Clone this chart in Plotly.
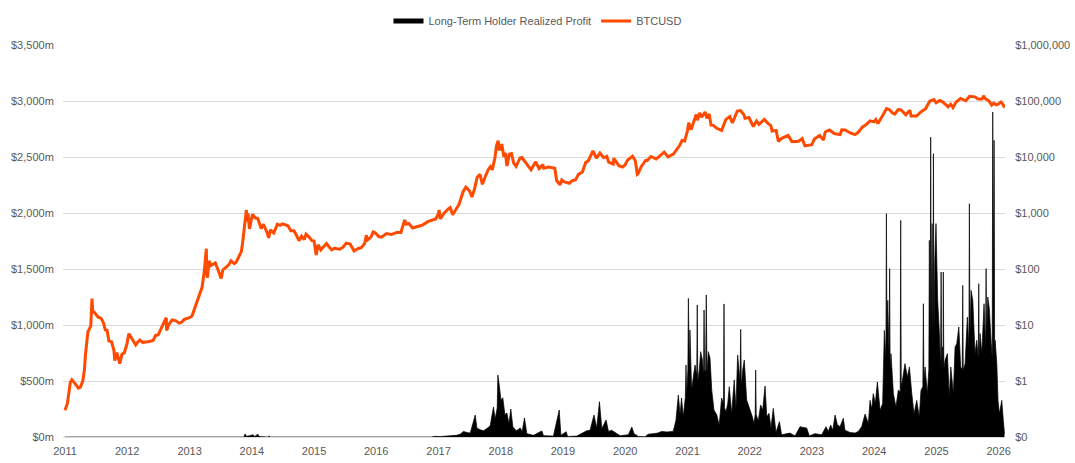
import plotly.graph_objects as go

# ---- Long-Term Holder Realized Profit ($m): main readings ----
profit_dates = [
    "2010-12-31", "2013-04-05", "2013-04-12", "2013-04-19", "2013-11-15", "2013-11-23", "2013-12-01",
    "2013-12-20", "2014-01-08", "2014-01-18", "2014-02-05", "2014-02-14", "2014-04-05", "2014-04-12",
    "2014-04-19", "2016-11-20", "2016-12-10", "2017-01-10", "2017-02-15", "2017-03-20", "2017-04-15",
    "2017-05-08", "2017-05-27", "2017-06-16", "2017-07-06", "2017-08-04", "2017-08-14", "2017-09-02",
    "2017-09-22", "2017-10-11", "2017-10-31", "2017-11-19", "2017-11-29", "2017-12-15", "2017-12-23",
    "2018-01-02", "2018-01-13", "2018-01-25", "2018-02-06", "2018-02-18", "2018-03-01", "2018-03-13",
    "2018-04-02", "2018-04-25", "2018-05-07", "2018-05-20", "2018-06-03", "2018-07-12", "2018-08-30",
    "2018-09-09", "2018-11-06", "2018-12-10", "2018-12-20", "2019-01-20", "2019-01-28", "2019-03-23",
    "2019-05-20", "2019-06-09", "2019-07-02", "2019-07-18", "2019-08-03", "2019-08-17", "2019-09-11",
    "2019-09-25", "2019-10-14", "2019-11-03", "2019-12-02", "2020-01-20", "2020-02-09", "2020-02-22",
    "2020-03-18", "2020-04-27", "2020-05-16", "2020-06-14", "2020-07-10", "2020-08-02", "2020-09-01",
    "2020-10-09", "2020-10-25", "2020-11-08", "2020-11-18", "2020-11-27", "2020-12-07", "2020-12-23",
    "2021-01-06", "2021-01-15", "2021-01-25", "2021-02-04", "2021-02-14", "2021-02-27", "2021-03-11",
    "2021-03-19", "2021-03-29", "2021-04-08", "2021-04-21", "2021-05-03", "2021-05-13", "2021-05-23",
    "2021-06-05", "2021-06-21", "2021-07-06", "2021-07-20", "2021-08-03", "2021-08-15", "2021-08-25",
    "2021-09-03", "2021-09-17", "2021-10-02", "2021-10-12", "2021-10-22", "2021-11-09", "2021-11-21",
    "2021-11-30", "2021-12-14", "2022-01-03", "2022-01-16", "2022-01-26", "2022-02-05", "2022-02-20",
    "2022-03-06", "2022-03-18", "2022-04-01", "2022-04-11", "2022-04-24", "2022-05-06", "2022-05-19",
    "2022-06-04", "2022-06-24", "2022-07-07", "2022-08-25", "2022-09-24", "2022-10-23", "2022-11-11",
    "2022-12-01", "2022-12-17", "2023-01-19", "2023-02-27", "2023-03-25", "2023-04-07", "2023-04-21",
    "2023-05-03", "2023-05-17", "2023-05-30", "2023-06-15", "2023-07-04", "2023-07-14", "2023-08-13",
    "2023-09-11", "2023-09-30", "2023-10-20", "2023-11-09", "2023-11-19", "2023-11-28", "2023-12-08",
    "2023-12-18", "2023-12-27", "2024-01-08", "2024-01-20", "2024-02-05", "2024-02-20", "2024-03-01",
    "2024-03-13", "2024-03-21", "2024-04-01", "2024-04-09", "2024-04-23", "2024-05-08", "2024-05-22",
    "2024-06-05", "2024-06-15", "2024-06-30", "2024-07-14", "2024-07-26", "2024-08-09", "2024-08-22",
    "2024-09-07", "2024-09-22", "2024-10-02", "2024-10-16", "2024-10-26", "2024-11-08", "2024-11-20",
    "2024-11-28", "2024-12-06", "2024-12-14", "2024-12-22", "2024-12-29", "2025-01-08", "2025-01-18",
    "2025-01-28", "2025-02-05", "2025-02-10", "2025-02-20", "2025-03-06", "2025-03-17", "2025-03-26",
    "2025-04-10", "2025-04-20", "2025-04-30", "2025-05-12", "2025-05-23", "2025-06-04", "2025-06-18",
    "2025-07-01", "2025-07-13", "2025-07-23", "2025-08-02", "2025-08-15", "2025-08-25", "2025-09-06",
    "2025-09-14", "2025-09-24", "2025-10-07", "2025-10-19", "2025-10-29", "2025-11-07", "2025-11-17",
    "2025-11-27", "2025-12-05", "2025-12-11", "2025-12-21", "2025-12-28", "2026-01-05", "2026-01-19",
    "2026-01-28", "2026-02-04",
]
profit_values = [
    0, 0, 5, 0, 0, 27, 6,
    12, 20, 5, 25, 4, 0, 10,
    0, 0, 6, 4, 7, 8, 15,
    25, 50, 40, 35, 196, 80, 65,
    55, 75, 100, 268, 160, 553, 464,
    330, 350, 200, 214, 120, 250, 90,
    55, 80, 50, 170, 30, 15, 54,
    12, 8, 241, 15, 47, 5, 8,
    55, 60, 196, 80, 315, 75, 152,
    50, 60, 40, 12, 20, 89, 30,
    5, 3, 25, 30, 35, 50, 45,
    50, 150, 375, 200, 348, 180, 643,
    1238, 955, 420, 538, 643, 1179, 598,
    762, 690, 1134, 1268, 762, 705, 420,
    241, 200, 107, 348, 1188, 226, 300,
    449, 210, 509, 250, 732, 961, 598,
    688, 330, 250, 182, 120, 598, 143,
    286, 240, 455, 180, 211, 80, 256,
    40, 137, 20, 35, 10, 92, 85,
    80, 10, 30, 20, 92, 50, 107,
    60, 196, 110, 92, 167, 60, 40,
    35, 50, 92, 205, 150, 120, 327,
    250, 387, 300, 491, 238, 300, 952,
    1994, 1220, 1503, 744, 387, 268, 420,
    1934, 506, 655, 536, 625, 387, 208,
    327, 179, 417, 1190, 625, 387, 1756,
    2678, 1905, 2530, 1577, 1905, 1220, 923,
    1473, 804, 1473, 685, 744, 357, 625,
    387, 804, 833, 982, 625, 1354, 655,
    1071, 2083, 1309, 1220, 744, 863, 1369,
    923, 744, 1190, 1503, 1250, 1146, 863,
    2902, 2649, 863, 655, 327, 208, 327,
    149, 30,
]

# ---- extra readings: the body level right beside the tallest spikes ----
profit_body_dates = [
    "2017-12-11", "2020-12-19", "2020-12-27", "2021-01-03", "2021-01-09", "2021-01-12",
    "2021-02-24", "2021-03-02", "2021-04-05", "2021-04-11", "2021-04-17", "2021-04-25",
    "2021-07-31", "2021-08-06", "2021-11-05", "2021-11-13", "2022-02-02", "2022-02-08",
    "2024-03-10", "2024-03-16", "2024-03-29", "2024-04-04", "2024-06-02", "2024-06-08",
    "2024-10-13", "2024-10-19", "2024-11-17", "2024-11-25", "2024-12-01", "2024-12-11",
    "2024-12-17", "2025-01-25", "2025-01-31", "2025-02-08", "2025-02-13", "2025-06-01",
    "2025-06-07", "2025-07-10", "2025-07-16", "2025-09-03", "2025-09-09", "2025-10-16",
    "2025-10-22", "2025-11-24", "2025-11-30", "2025-12-02", "2025-12-08",
]
profit_body_values = [
    260, 350, 380, 600, 700, 550,
    550, 500, 550, 600, 580, 560,
    300, 260, 500, 450, 200, 200,
    700, 900, 700, 600, 400, 450,
    450, 500, 600, 900, 1000, 900,
    900, 600, 650, 600, 600, 600,
    600, 800, 900, 700, 700, 800,
    900, 700, 1600, 1200, 800,
]

# ---- BTCUSD price ($, log axis) ----
price_dates = [
    "2011-01-01", "2011-01-15", "2011-02-01", "2011-02-10", "2011-03-01", "2011-03-20", "2011-04-01",
    "2011-04-15", "2011-04-25", "2011-05-01", "2011-05-15", "2011-05-25", "2011-06-01", "2011-06-08",
    "2011-06-12", "2011-06-20", "2011-07-01", "2011-07-15", "2011-08-01", "2011-08-15", "2011-08-25",
    "2011-09-05", "2011-09-15", "2011-10-01", "2011-10-15", "2011-10-20", "2011-11-01", "2011-11-18",
    "2011-12-01", "2011-12-15", "2011-12-31", "2012-01-10", "2012-01-20", "2012-02-01", "2012-02-20",
    "2012-03-01", "2012-03-15", "2012-04-01", "2012-05-01", "2012-06-01", "2012-06-15", "2012-07-01",
    "2012-07-20", "2012-08-10", "2012-08-17", "2012-08-19", "2012-09-01", "2012-09-20", "2012-10-10",
    "2012-11-01", "2012-11-15", "2012-12-01", "2012-12-31", "2013-01-15", "2013-02-01", "2013-02-15",
    "2013-03-01", "2013-03-15", "2013-03-28", "2013-04-09", "2013-04-12", "2013-04-16", "2013-04-25",
    "2013-05-05", "2013-05-20", "2013-06-01", "2013-06-15", "2013-07-05", "2013-07-15", "2013-08-01",
    "2013-08-20", "2013-09-01", "2013-09-20", "2013-10-01", "2013-10-20", "2013-11-01", "2013-11-10",
    "2013-11-18", "2013-11-25", "2013-11-30", "2013-12-07", "2013-12-10", "2013-12-18", "2013-12-25",
    "2014-01-05", "2014-01-20", "2014-02-05", "2014-02-25", "2014-03-10", "2014-03-31", "2014-04-10",
    "2014-04-20", "2014-05-10", "2014-05-31", "2014-06-15", "2014-07-01", "2014-07-15", "2014-08-01",
    "2014-08-18", "2014-09-05", "2014-09-20", "2014-10-05", "2014-10-20", "2014-11-05", "2014-11-15",
    "2014-12-01", "2014-12-20", "2015-01-01", "2015-01-14", "2015-01-25", "2015-02-10", "2015-03-01",
    "2015-03-15", "2015-04-01", "2015-04-15", "2015-05-01", "2015-06-01", "2015-06-20", "2015-07-10",
    "2015-08-01", "2015-08-24", "2015-09-15", "2015-10-05", "2015-10-25", "2015-11-04", "2015-11-12",
    "2015-12-01", "2015-12-15", "2015-12-31", "2016-01-15", "2016-02-01", "2016-03-01", "2016-04-01",
    "2016-05-01", "2016-05-25", "2016-06-16", "2016-06-25", "2016-07-10", "2016-08-02", "2016-09-01",
    "2016-10-01", "2016-10-30", "2016-11-20", "2016-12-15", "2016-12-31", "2017-01-04", "2017-01-11",
    "2017-02-01", "2017-03-01", "2017-03-10", "2017-03-25", "2017-04-15", "2017-05-01", "2017-05-25",
    "2017-06-10", "2017-07-01", "2017-07-16", "2017-08-01", "2017-08-15", "2017-09-01", "2017-09-15",
    "2017-10-01", "2017-10-20", "2017-11-01", "2017-11-12", "2017-11-28", "2017-12-07", "2017-12-17",
    "2017-12-22", "2017-12-31", "2018-01-07", "2018-01-17", "2018-01-28", "2018-02-06", "2018-02-20",
    "2018-03-05", "2018-03-18", "2018-04-01", "2018-04-24", "2018-05-05", "2018-06-01", "2018-06-28",
    "2018-07-25", "2018-08-14", "2018-09-05", "2018-09-10", "2018-10-10", "2018-11-14", "2018-11-25",
    "2018-12-15", "2018-12-25", "2019-01-10", "2019-02-07", "2019-02-25", "2019-03-15", "2019-04-02",
    "2019-04-25", "2019-05-14", "2019-05-30", "2019-06-26", "2019-07-16", "2019-08-06", "2019-08-28",
    "2019-09-15", "2019-09-26", "2019-10-23", "2019-10-26", "2019-11-25", "2019-12-17", "2019-12-31",
    "2020-01-15", "2020-02-13", "2020-03-01", "2020-03-12", "2020-03-16", "2020-04-05", "2020-04-30",
    "2020-05-10", "2020-06-01", "2020-07-01", "2020-07-28", "2020-08-17", "2020-09-08", "2020-10-10",
    "2020-10-25", "2020-11-15", "2020-11-30", "2020-12-15", "2020-12-31", "2021-01-08", "2021-01-22",
    "2021-02-08", "2021-02-21", "2021-02-28", "2021-03-13", "2021-03-25", "2021-04-14", "2021-04-25",
    "2021-05-08", "2021-05-19", "2021-06-01", "2021-06-22", "2021-07-20", "2021-08-14", "2021-09-06",
    "2021-09-21", "2021-10-20", "2021-11-08", "2021-11-28", "2021-12-04", "2021-12-27", "2022-01-22",
    "2022-02-10", "2022-02-24", "2022-03-28", "2022-04-15", "2022-05-05", "2022-05-12", "2022-06-05",
    "2022-06-18", "2022-07-08", "2022-08-14", "2022-09-06", "2022-10-15", "2022-11-05", "2022-11-21",
    "2022-12-31", "2023-01-15", "2023-02-15", "2023-03-10", "2023-03-20", "2023-04-14", "2023-05-12",
    "2023-06-15", "2023-06-25", "2023-07-15", "2023-08-17", "2023-09-11", "2023-10-01", "2023-10-25",
    "2023-11-15", "2023-12-08", "2023-12-31", "2024-01-11", "2024-01-23", "2024-02-15", "2024-02-29",
    "2024-03-14", "2024-04-01", "2024-04-17", "2024-05-01", "2024-05-21", "2024-06-07", "2024-07-05",
    "2024-07-29", "2024-08-05", "2024-09-06", "2024-09-30", "2024-10-29", "2024-11-13", "2024-11-22",
    "2024-12-17", "2024-12-30", "2025-01-20", "2025-02-03", "2025-02-28", "2025-03-10", "2025-03-25",
    "2025-04-08", "2025-04-25", "2025-05-22", "2025-06-22", "2025-07-14", "2025-08-14", "2025-09-01",
    "2025-09-25", "2025-10-06", "2025-10-11", "2025-11-04", "2025-11-21", "2025-12-02", "2025-12-18",
    "2025-12-29", "2026-01-14", "2026-01-25", "2026-02-04",
]
price_values = [
    0.30, 0.40, 0.95, 1.05, 0.90, 0.75, 0.78,
    1.0, 1.6, 3.0, 7.5, 8.5, 9.6, 29.6,
    18, 17, 15.4, 13.8, 13.1, 10.8, 8.2,
    8.0, 5.2, 5.0, 3.5, 2.3, 3.2, 2.05,
    3.0, 3.2, 4.7, 7.0, 6.3, 5.5, 4.4,
    4.9, 5.4, 4.9, 5.0, 5.3, 6.5, 6.7,
    8.8, 11.5, 13.5, 8.0, 10.2, 12.3, 12.0,
    10.8, 11.2, 12.6, 13.5, 14.5, 20, 27,
    34, 47, 90, 230, 80, 70, 140,
    115, 122, 128, 100, 68, 96, 105,
    120, 140, 125, 132, 180, 206, 330,
    600, 800, 1130, 700, 980, 520, 680,
    950, 820, 800, 530, 630, 450, 360,
    500, 440, 630, 600, 640, 620, 590,
    480, 480, 400, 320, 385, 335, 420,
    380, 320, 315, 178, 270, 220, 260,
    285, 245, 220, 235, 225, 245, 290,
    280, 210, 230, 240, 285, 400, 330,
    370, 460, 430, 380, 370, 430, 415,
    450, 450, 750, 630, 650, 540, 575,
    615, 700, 730, 780, 960, 1130, 780,
    980, 1200, 1250, 930, 1180, 1420, 2400,
    2900, 2500, 1930, 2750, 4300, 4900, 3250,
    4400, 6000, 6700, 5900, 9800, 16000, 19500,
    13800, 13800, 17000, 11000, 11700, 6900, 11200,
    11500, 7800, 6800, 9600, 9800, 7500, 5900,
    8200, 6200, 7300, 6300, 6600, 6300, 3800,
    3200, 3900, 3600, 3400, 3800, 3900, 4900,
    5400, 8000, 8600, 12900, 9500, 11800, 9700,
    10300, 8100, 7500, 9500, 7000, 6600, 7200,
    8800, 10300, 8500, 4900, 5000, 6800, 8700,
    8700, 10200, 9200, 11000, 12200, 10100, 11300,
    13000, 16000, 19700, 19300, 29000, 40700, 30800,
    46400, 57500, 45200, 61200, 51500, 63500, 49000,
    58900, 37000, 36700, 32500, 29800, 47000, 52700,
    40500, 66000, 67500, 57000, 49000, 50700, 35000,
    44000, 38300, 47100, 40500, 36500, 29000, 29800,
    19000, 21600, 24300, 18800, 19100, 21300, 15800,
    16550, 20900, 24300, 20200, 28000, 30400, 26300,
    25100, 30500, 30300, 26600, 25100, 27900, 34500,
    37800, 44100, 42300, 46600, 39500, 51800, 61200,
    73100, 69700, 61300, 58200, 70100, 69300, 56700,
    68200, 54000, 53900, 63300, 72700, 90000, 98900,
    106100, 92800, 102000, 97500, 84300, 78500, 87500,
    76300, 94700, 111000, 101000, 121000, 118500, 109000,
    109000, 124700, 112000, 101000, 84500, 91300, 85500,
    87500, 96000, 88000, 76000,
]

left_ticks = [0, 500, 1000, 1500, 2000, 2500, 3000, 3500]
left_labels = ["$0m", "$500m", "$1,000m", "$1,500m", "$2,000m", "$2,500m", "$3,000m", "$3,500m"]
right_ticks = [0.1, 1, 10, 100, 1000, 10000, 100000, 1000000]
right_labels = ["$0", "$1", "$10", "$100", "$1,000", "$10,000", "$100,000", "$1,000,000"]

# merge the two sets of profit readings in date order
profit_pairs = sorted(zip(profit_dates + profit_body_dates, profit_values + profit_body_values))
profit_x = [d for d, _ in profit_pairs]
profit_y = [v for _, v in profit_pairs]

ORANGE = "#ff4a00"
GRID = "#d9d9d9"
TXT = "#595959"
FONT = "Liberation Sans, Arial, sans-serif"

fig = go.Figure()
fig.add_trace(go.Scatter(
    x=profit_x, y=profit_y, mode="lines", fill="tozeroy",
    fillcolor="black", line=dict(color="black", width=0.7),
    showlegend=False, yaxis="y", hoverinfo="skip",
))
fig.add_trace(go.Scatter(
    x=price_dates, y=price_values, mode="lines",
    line=dict(color=ORANGE, width=3), showlegend=False, yaxis="y2",
))
# legend entries
fig.add_trace(go.Scatter(x=[None], y=[None], mode="lines", name="Long-Term Holder Realized Profit",
                         line=dict(color="black", width=5), yaxis="y"))
fig.add_trace(go.Scatter(x=[None], y=[None], mode="lines", name="BTCUSD",
                         line=dict(color=ORANGE, width=3), yaxis="y2"))

fig.update_layout(
    width=1075, height=463,
    margin=dict(l=63, r=70, t=45, b=26, autoexpand=False),
    paper_bgcolor="white", plot_bgcolor="white",
    font=dict(family=FONT, size=11, color=TXT),
    legend=dict(orientation="h", x=0.5, xanchor="center", xref="container",
                y=1 - 21 / 463, yanchor="middle", yref="container",
                font=dict(size=11, color=TXT), itemwidth=30, tracegroupgap=0,
                bgcolor="rgba(0,0,0,0)"),
    xaxis=dict(type="date", range=["2010-12-20", "2026-02-07"], dtick="M12", tick0="2011-01-01",
               tickformat="%Y", showgrid=False, zeroline=False, showline=False, automargin=False,
               ticks="outside", ticklen=4, tickcolor="rgba(0,0,0,0)",
               tickfont=dict(size=11, color=TXT)),
    yaxis=dict(range=[0, 3500], tickvals=left_ticks, ticktext=left_labels, automargin=False,
               showgrid=True, gridcolor=GRID, gridwidth=1,
               zeroline=True, zerolinecolor=GRID, zerolinewidth=1, showline=False,
               ticks="outside", ticklen=6, tickcolor="rgba(0,0,0,0)",
               tickfont=dict(size=11, color=TXT)),
    yaxis2=dict(type="log", range=[-1, 6], overlaying="y", side="right", automargin=False,
                tickvals=right_ticks, ticktext=right_labels, showgrid=False,
                zeroline=False, showline=False,
                ticks="outside", ticklen=7, tickcolor="rgba(0,0,0,0)",
                tickfont=dict(size=11, color=TXT)),
    hovermode=False,
)

fig.write_html("out.html")
